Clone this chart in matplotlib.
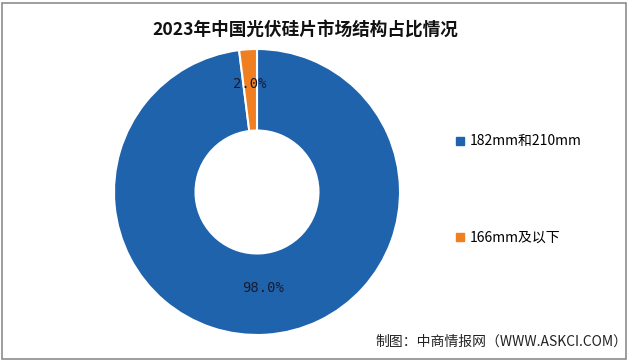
import matplotlib
matplotlib.use("Agg")
import matplotlib.pyplot as plt
from matplotlib.patches import Rectangle
from matplotlib.lines import Line2D
import numpy as np

plt.rcParams['font.family'] = ['Noto Sans CJK SC', 'DejaVu Sans']

title = "2023年中国光伏硅片市场结构占比情况"
categories = ["182mm和210mm", "166mm及以下"]
values = [98.0, 2.0]
colors = ["#1F63AC", "#F07F22"]
source = "制图：中商情报网（WWW.ASKCI.COM）"

W, H = 640, 360
fig = plt.figure(figsize=(6.4, 3.6), dpi=100)
fig.patch.set_facecolor("white")

# outer frame
fig.add_artist(Rectangle((1.5 / W, 1.5 / H), (626 - 1.5) / W, (357 - 1.5) / H,
                         transform=fig.transFigure, fill=False,
                         edgecolor="#8C8C8C", linewidth=1.2))

cx, cy, R = 257, 192, 143
ax = fig.add_axes([(cx - R) / W, (H - cy - R) / H, 2 * R / W, 2 * R / H])
wedges, texts, autotexts = ax.pie(
    values, colors=colors, startangle=90, counterclock=False,
    radius=1.0, autopct="%.1f%%", pctdistance=0.7,
    wedgeprops=dict(width=0.57, edgecolor="white", linewidth=1.5),
    textprops=dict(fontsize=10, color="#1a1a2e"))
label_r = [0.67, 0.76]
for w, t, r in zip(wedges, autotexts, label_r):
    ang = np.deg2rad((w.theta1 + w.theta2) / 2)
    t.set_position((r * np.cos(ang), r * np.sin(ang)))
    t.set_family(['DejaVu Sans Mono'])
ax.set_xlim(-1, 1)
ax.set_ylim(-1, 1)
ax.set_aspect("equal")

fig.text(305 / W, 1 - 30 / H, title, ha="center", va="center",
         fontsize=12.7, fontweight="bold", color="#111111")

handles = [Line2D([], [], marker="s", linestyle="none", markersize=6,
                  markerfacecolor=c, markeredgecolor=c) for c in colors]
leg = fig.legend(handles, categories, loc="upper left",
                 bbox_to_anchor=(441 / W, 1 - 122 / H), frameon=False,
                 fontsize=10, labelspacing=5.9, handletextpad=0.2,
                 handlelength=1.0)

fig.text(627 / W, 1 - 342 / H, source, ha="right", va="center",
         fontsize=10, color="#222222")

fig.savefig("out.png", dpi=100)
